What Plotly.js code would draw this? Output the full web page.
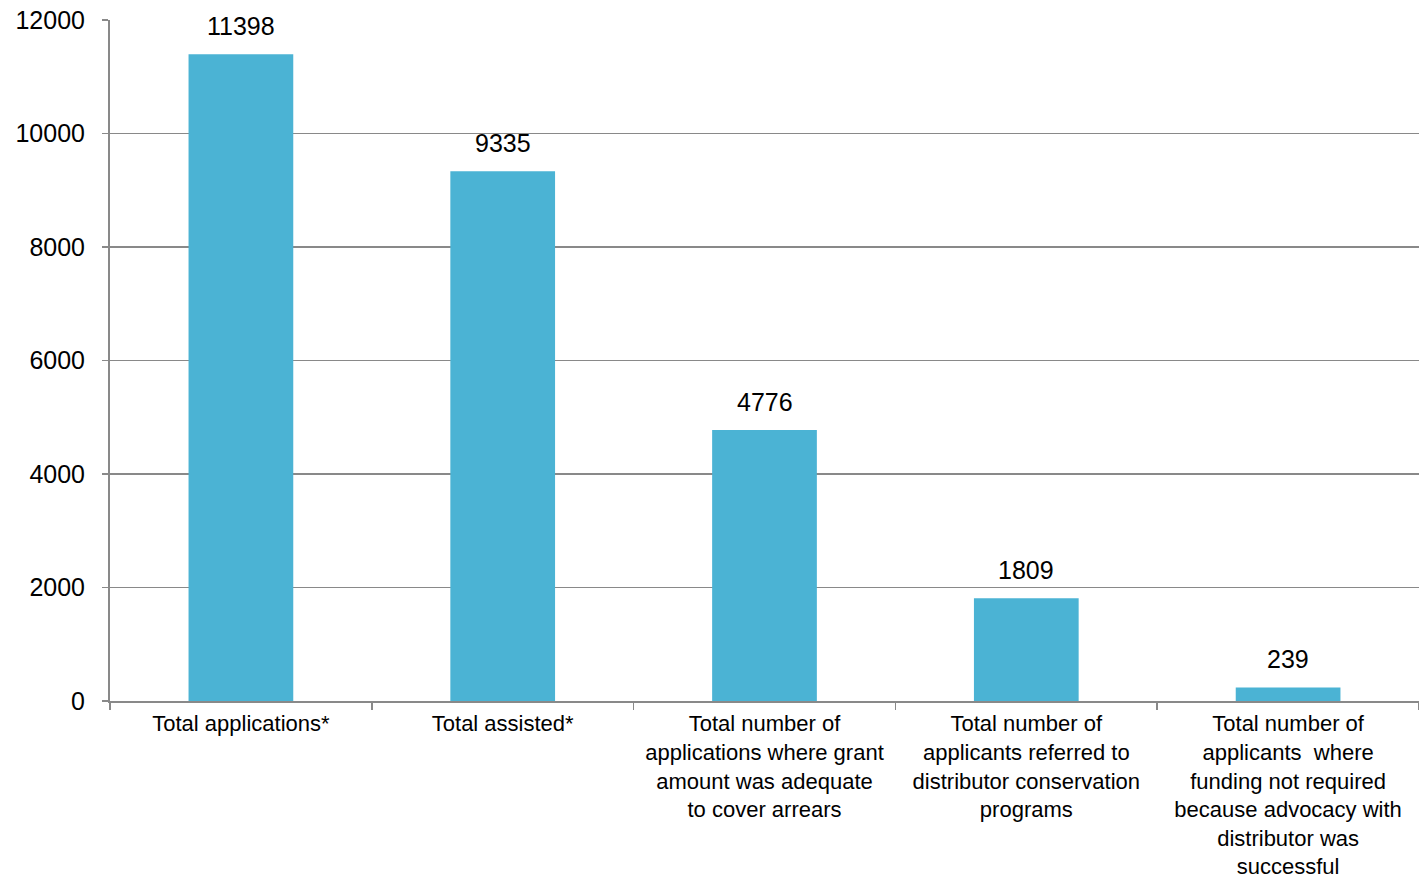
<!DOCTYPE html>
<html>
<head>
<meta charset="utf-8">
<script src="https://cdn.plot.ly/plotly-3.0.1.min.js"></script>
<style>html,body{margin:0;padding:0;background:#fff;}#chart{width:1419px;height:880px;}</style>
</head>
<body>
<div id="chart"></div>
<script>
const categories = [
  "Total applications*",
  "Total assisted*",
  "Total number of<br>applications where grant<br>amount was adequate<br>to cover arrears",
  "Total number of<br>applicants referred to<br>distributor conservation<br>programs",
  "Total number of<br>applicants  where<br>funding not required<br>because advocacy with<br>distributor was<br>successful"
];
const values = [11398, 9335, 4776, 1809, 239];
const yTicks = [0, 2000, 4000, 6000, 8000, 10000, 12000];

const font = "Liberation Sans, Arial, sans-serif";
const trace = {
  type: "bar",
  x: categories,
  y: values,
  width: 0.4,
  marker: {color: "#4BB3D4"},
  hoverinfo: "none"
};
const annotations = categories.map((c, i) => ({
  x: c, y: values[i], xref: "x", yref: "y",
  text: String(values[i]),
  showarrow: false,
  yanchor: "bottom",
  yshift: 12,
  font: {family: font, size: 25, color: "#000"}
}));
const layout = {
  width: 1419, height: 880,
  margin: {l: 110, r: 0, t: 20, b: 179},
  paper_bgcolor: "#fff", plot_bgcolor: "#fff",
  showlegend: false,
  annotations: annotations,
  xaxis: {
    type: "category",
    showline: true, linecolor: "#898989", linewidth: 2,
    ticks: "outside", tickson: "boundaries", ticklen: 7, tickcolor: "#898989", tickwidth: 1.5,
    ticklabelstandoff: 2,
    tickfont: {family: font, size: 22, color: "#000"},
    tickangle: 0,
    showgrid: false
  },
  yaxis: {
    range: [0, 12000],
    tickvals: yTicks, ticktext: yTicks.map(String),
    showline: true, linecolor: "#898989", linewidth: 2,
    ticks: "outside", ticklen: 6, tickcolor: "#898989", tickwidth: 1.5,
    ticklabelstandoff: 12,
    tickfont: {family: font, size: 25, color: "#000"},
    showgrid: true, gridcolor: "#898989", gridwidth: 1.5,
    zeroline: false
  }
};
Plotly.newPlot("chart", [trace], layout, {displayModeBar: false, staticPlot: true});
</script>
</body>
</html>
